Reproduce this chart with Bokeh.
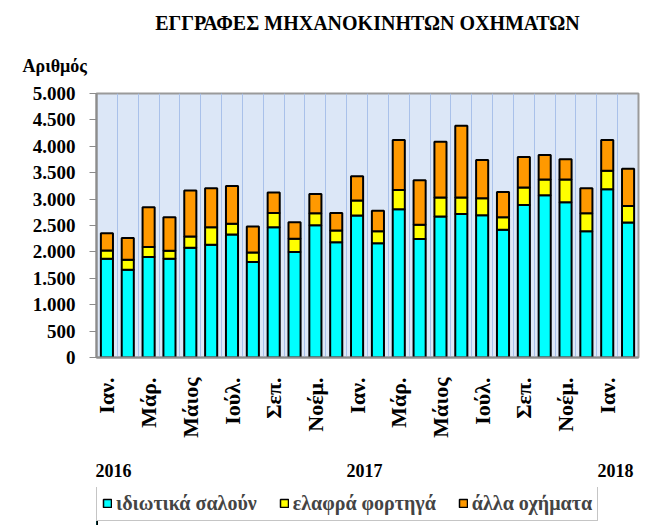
import math
from bokeh.plotting import figure
from bokeh.layouts import column
from bokeh.models import (ColumnDataSource, Range1d, FixedTicker, Legend, LegendItem,
                          Title, LinearAxis)
from bokeh.embed import file_html
from bokeh.resources import INLINE

# ---- data (Jan 2016 .. Feb 2018) ----
saloons = [1870, 1662, 1902, 1870, 2078, 2135, 2330, 1807, 2468, 1996, 2506, 2185,
           2689, 2166, 2808, 2242, 2670, 2720, 2695, 2418, 2890, 3073, 2941, 2393,
           3186, 2557]
light_trucks = [158, 189, 189, 151, 214, 333, 201, 183, 271, 252, 227, 221,
                283, 227, 366, 271, 359, 309, 321, 239, 328, 296, 428, 340,
                353, 314]
other_vehicles = [327, 410, 755, 636, 869, 737, 718, 491, 384, 315, 365, 333,
                  460, 384, 944, 843, 1058, 1360, 724, 479, 579, 466, 384, 472,
                  579, 706]
month_tick_labels = ["Ιαν.", "Μάρ.", "Μάιος", "Ιούλ.", "Σεπ.", "Νοέμ.",
                     "Ιαν.", "Μάρ.", "Μάιος", "Ιούλ.", "Σεπ.", "Νοέμ.", "Ιαν."]
year_labels = ["2016", "2017", "2018"]
y_ticks = [0, 500, 1000, 1500, 2000, 2500, 3000, 3500, 4000, 4500, 5000]
y_tick_labels = ["0", "500", "1.000", "1.500", "2.000", "2.500", "3.000",
                 "3.500", "4.000", "4.500", "5.000"]
series_names = ["ιδιωτικά σαλούν", "ελαφρά φορτηγά", "άλλα οχήματα"]
series_colors = ["#00ffff", "#ffff00", "#ff9900"]
title_text = "ΕΓΓΡΑΦΕΣ ΜΗΧΑΝΟΚΙΝΗΤΩΝ ΟΧΗΜΑΤΩΝ"
y_title = "Αριθμός"

FONT = "Liberation Serif"
n = len(saloons)
x = list(range(n))
src = ColumnDataSource(dict(x=x, s=saloons, l=light_trucks, o=other_vehicles))

p = figure(width=666, height=487, output_backend="svg", toolbar_location=None,
           title=None,
           x_range=Range1d(-0.5, n - 0.5), y_range=Range1d(0, 5000),
           min_border_left=96, min_border_right=28, min_border_top=93,
           min_border_bottom=130)
p.background_fill_color = "#dce7f7"
p.border_fill_color = "white"
p.outline_line_color = "#9a9a9a"
p.outline_line_width = 2

renderers = p.vbar_stack(["s", "l", "o"], x="x", width=0.58, source=src,
                         fill_color=series_colors, line_color="black", line_width=2)

# grids
p.ygrid.visible = False
p.xgrid.ticker = FixedTicker(ticks=[i + 0.5 for i in range(n - 1)])
p.xgrid.grid_line_color = "#a9c1ea"
p.xgrid.grid_line_width = 1

# y axis
ya = p.yaxis[0]
ya.ticker = FixedTicker(ticks=y_ticks)
ya.major_label_overrides = {t: l for t, l in zip(y_ticks, y_tick_labels)}
ya.major_label_text_font = FONT
ya.major_label_text_font_style = "bold"
ya.major_label_text_font_size = "19px"
ya.major_label_text_color = "black"
ya.axis_line_color = "#8c8c8c"
ya.axis_line_width = 2
ya.major_tick_line_color = "#8c8c8c"
ya.major_tick_out = 7
ya.major_tick_in = 0
ya.minor_tick_out = 0
ya.minor_tick_in = 0
ya.major_label_standoff = 14

# x axis (months)
xa = p.xaxis[0]
xt = list(range(0, n, 2))
xa.ticker = FixedTicker(ticks=xt)
xa.major_label_overrides = {t: l for t, l in zip(xt, month_tick_labels)}
xa.major_label_orientation = math.pi / 2
xa.major_label_text_font = FONT
xa.major_label_text_font_style = "bold"
xa.major_label_text_font_size = "22px"
xa.major_label_text_color = "black"
xa.axis_line_color = "#8c8c8c"
xa.axis_line_width = 2
xa.major_tick_out = 0
xa.major_tick_in = 0
xa.minor_tick_out = 0
xa.minor_tick_in = 0
xa.major_label_standoff = 20
xa.axis_label_standoff = 0

# second x axis (years)
year_pos = [0.32, 12.36, 24.4]
ya2 = LinearAxis(ticker=FixedTicker(ticks=year_pos),
                 major_label_overrides={t: l for t, l in zip(year_pos, year_labels)},
                 major_label_text_font=FONT, major_label_text_font_style="bold",
                 major_label_text_font_size="18px", major_label_text_color="black",
                 axis_line_color=None, major_tick_line_color=None,
                 minor_tick_line_color=None, major_label_standoff=23,
                 major_tick_out=0, major_tick_in=0, minor_tick_out=0, minor_tick_in=0,
                 axis_label_standoff=0)
p.add_layout(ya2, "below")

# titles (first added is closest to the frame)
p.add_layout(Title(text=y_title, align="left", offset=-74, text_font=FONT,
                   text_font_style="bold", text_font_size="18px",
                   text_color="black", standoff=36), "above")
p.add_layout(Title(text=title_text, align="center", offset=-10, text_font=FONT,
                   text_font_style="bold", text_font_size="20px",
                   text_color="black", standoff=4), "above")

# legend strip (separate figure directly below the chart); its key glyphs use
# the same data, drawn outside this strip's visible x range
lg = figure(width=666, height=38, output_backend="svg", toolbar_location=None,
            title=None, x_range=Range1d(1000, 1001), y_range=Range1d(0, 1),
            min_border_left=0, min_border_right=0, min_border_top=0,
            min_border_bottom=0)
lg.axis.visible = False
lg.grid.visible = False
lg.outline_line_color = None
lg.background_fill_color = "white"
lg.border_fill_color = "white"
key_renderers = lg.vbar_stack(["s", "l", "o"], x="x", width=0.58, source=src,
                              fill_color=series_colors, line_color="black",
                              line_width=1.5)
legend = Legend(items=[LegendItem(label=nm, renderers=[r])
                       for nm, r in zip(series_names, key_renderers)],
                location=(0, 4), orientation="horizontal", margin=0,
                padding=5, spacing=22, label_standoff=4,
                glyph_width=10, glyph_height=10,
                label_text_font=FONT, label_text_font_style="bold",
                label_text_font_size="20px", label_height=24,
                border_line_color="#8c8c8c", border_line_width=1,
                background_fill_color="white", background_fill_alpha=1.0)
lg.add_layout(legend)

layout = column(p, lg, spacing=0)
open("out.html", "w").write(file_html(layout, INLINE))
